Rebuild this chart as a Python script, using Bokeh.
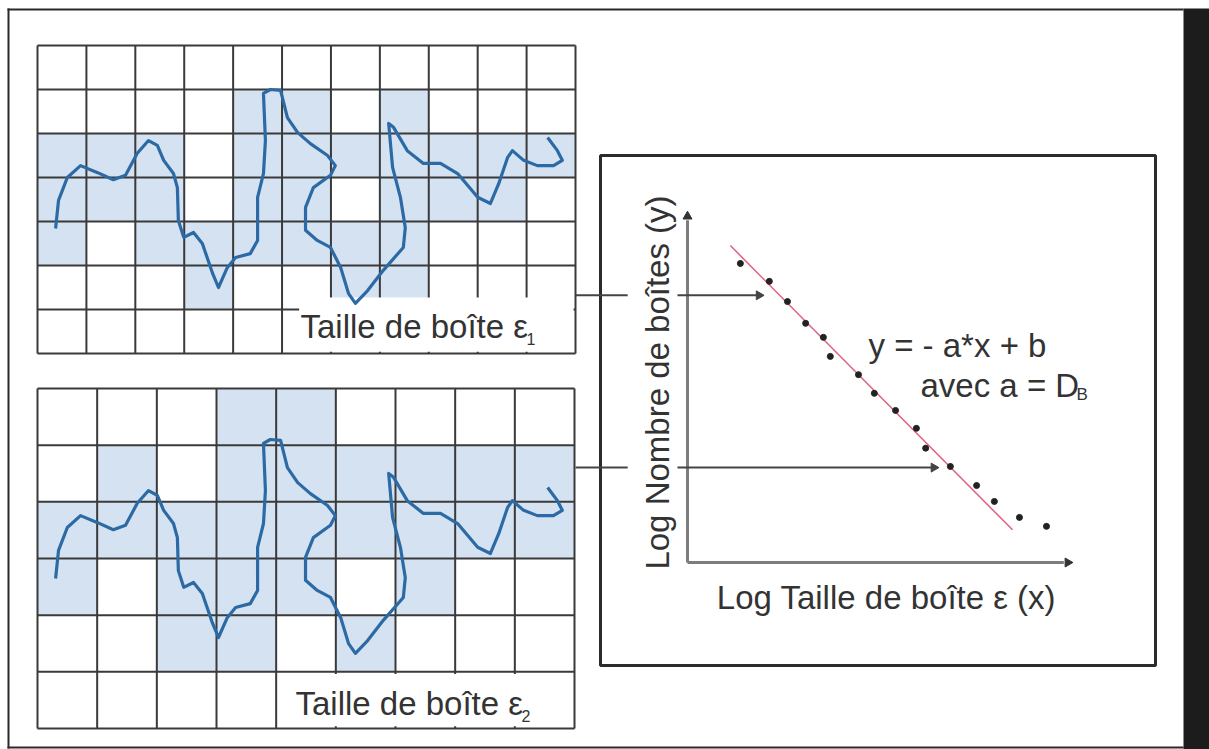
import math
from bokeh.plotting import figure
from bokeh.models import Range1d
from bokeh.core.properties import value
from bokeh.embed import file_html
from bokeh.resources import INLINE

# ---------------- data ----------------
# Fractal curve, in units of the box size eps1 (grid 1 is 11 x 7 boxes)
CURVE_X = [0.37, 0.43, 0.61, 0.88, 1.23, 1.55, 1.80, 2.04, 2.27, 2.45, 2.58, 2.78, 2.86,
           2.88, 2.99, 3.19, 3.37, 3.58, 3.70, 3.88, 4.05, 4.35, 4.50, 4.50, 4.62, 4.66,
           4.62, 4.76, 4.97, 5.11, 5.32, 5.58, 5.93, 6.09, 5.99, 5.64, 5.48, 5.48, 5.72,
           5.99, 6.20, 6.36, 6.50, 6.75, 7.07, 7.48, 7.52, 7.42, 7.26, 7.18, 7.28, 7.56,
           7.89, 8.24, 8.59, 9.00, 9.26, 9.43, 9.61, 9.71, 9.94, 10.22, 10.55, 10.73,
           10.63, 10.43]
CURVE_Y = [2.84, 3.48, 4.00, 4.27, 4.11, 3.95, 4.05, 4.55, 4.84, 4.73, 4.39, 4.09, 3.77,
           3.02, 2.64, 2.75, 2.50, 1.82, 1.50, 1.95, 2.18, 2.27, 2.57, 3.55, 4.09, 4.84,
           5.91, 6.00, 5.98, 5.36, 5.02, 4.77, 4.50, 4.27, 4.05, 3.77, 3.32, 2.80, 2.57,
           2.41, 1.95, 1.36, 1.14, 1.43, 1.89, 2.41, 2.86, 3.55, 4.23, 5.23, 5.14, 4.61,
           4.32, 4.32, 4.09, 3.55, 3.41, 3.86, 4.45, 4.61, 4.39, 4.27, 4.27, 4.39, 4.61,
           4.91]

# Grid 1 (box size eps1): 11 columns x 7 rows; boxes touched by the curve (row from top, column)
GRID1_COLS, GRID1_ROWS = 11, 7
GRID1_ROW = [1, 1, 1,
             2, 2, 2, 2, 2, 2, 2, 2, 2, 2,
             3, 3, 3, 3, 3, 3, 3, 3,
             4, 4, 4, 4, 4, 4, 4,
             5, 5, 5]
GRID1_COL = [4, 5, 7,
             0, 1, 2, 4, 5, 6, 7, 8, 9, 10,
             0, 1, 2, 4, 5, 7, 8, 9,
             0, 2, 3, 4, 5, 6, 7,
             3, 6, 7]

# Grid 2 (box size eps2): 9 columns x 6 rows
GRID2_COLS, GRID2_ROWS = 9, 6
GRID2_ROW = [0, 0,
             1, 1, 1, 1, 1, 1, 1,
             2, 2, 2, 2, 2, 2, 2, 2, 2,
             3, 3, 3, 3, 3,
             4, 4, 4]
GRID2_COL = [3, 4,
             1, 3, 4, 5, 6, 7, 8,
             0, 1, 2, 3, 4, 5, 6, 7, 8,
             0, 2, 3, 4, 6,
             2, 3, 5]

# log-log plot: log box size (x) vs log number of boxes (y)
LOG_EPS = [1.37, 2.12, 2.59, 3.06, 3.52, 3.70, 4.43, 4.84, 5.39, 5.93, 6.17, 6.81, 7.49,
           7.95, 8.60, 9.30]
LOG_N = [7.69, 7.23, 6.71, 6.15, 5.79, 5.30, 4.83, 4.35, 3.91, 3.45, 2.94, 2.47, 1.98,
         1.57, 1.16, 0.93]
FIT_A, FIT_B = 1.0, 9.26
FIT_X = [1.11, 8.42]
ARROW_LEVELS = [6.87, 2.44]   # log N read for eps1 and eps2
ARROW_TIPS = [1.97, 6.50]

LABEL_BOX = "Taille de boîte ε"
SUB1, SUB2 = "1", "2"
X_LABEL = "Log Taille de boîte ε (x)"
Y_LABEL = "Log Nombre de boîtes (y)"
EQ1 = "y = - a*x + b"
EQ2 = "avec a = D"
EQ2_SUB = "B"

# ---------------- styles ----------------
SHADE = "#d5e2f1"
GRIDLINE = "#3a3a3a"
CURVE_COLOR = "#2c6aa5"
TEXT = "#333333"
FONT = value("Liberation Sans")

W, H = 1209, 749
p = figure(width=W, height=H, x_range=Range1d(0, W), y_range=Range1d(H, 0),
           x_axis_type=None, y_axis_type=None, output_backend="svg",
           toolbar_location=None, min_border=0)
p.xgrid.visible = False
p.ygrid.visible = False
p.outline_line_color = None
p.background_fill_color = "white"
p.border_fill_color = "white"

# page frame and dark side bar
p.quad(left=1183, right=W, top=8, bottom=H, fill_color="#1c1c1c", line_color=None)
p.segment(x0=[8, 7, 7], y0=[8, 9, 747], x1=[8, 1183, 1183], y1=[748, 9, 747],
          line_color="#2a2a2a", line_width=2)


def draw_grid(ncols, nrows, rows, cols, xt, yt, box_left, box_top):
    g = p.subplot(x_source=Range1d(0, ncols), y_source=Range1d(0, nrows),
                  x_target=Range1d(*xt), y_target=Range1d(*yt))
    g.quad(left=cols, right=[c + 1 for c in cols],
           top=[nrows - r for r in rows], bottom=[nrows - r - 1 for r in rows],
           fill_color=SHADE, line_color=None)
    xs = list(range(ncols + 1))
    ys = list(range(nrows + 1))
    g.segment(x0=xs, y0=[0] * len(xs), x1=xs, y1=[nrows] * len(xs),
              line_color=GRIDLINE, line_width=2)
    g.segment(x0=[0] * len(ys), y0=ys, x1=[ncols] * len(ys), y1=ys,
              line_color=GRIDLINE, line_width=2)
    g.quad(left=[box_left], right=[ncols - 0.04], bottom=[0.04], top=[box_top],
           fill_color="white", line_color=None)
    return g


g1 = draw_grid(GRID1_COLS, GRID1_ROWS, GRID1_ROW, GRID1_COL, (37, 575), (353, 45), 5.35, 1.27)
g1.line(CURVE_X, CURVE_Y, line_color=CURVE_COLOR, line_width=3.2, line_join="round")

g2 = draw_grid(GRID2_COLS, GRID2_ROWS, GRID2_ROW, GRID2_COL, (37, 574), (728, 388), 4.04, 0.96)
c2 = p.subplot(x_source=Range1d(0, GRID1_COLS), y_source=Range1d(0, GRID1_ROWS),
               x_target=Range1d(37, 575), y_target=Range1d(703, 395))
c2.line(CURVE_X, CURVE_Y, line_color=CURVE_COLOR, line_width=3.2, line_join="round")

# grid labels
p.text(x=[300, 295], y=[326, 703], text=[LABEL_BOX, LABEL_BOX], text_font=FONT,
       text_font_size="33px", text_color=TEXT, text_align="left", text_baseline="middle")
p.text(x=[526, 521], y=[338, 715], text=[SUB1, SUB2], text_font=FONT,
       text_font_size="16px", text_color=TEXT, text_align="left", text_baseline="middle")

# right panel box
p.quad(left=[600], right=[1155], top=[155], bottom=[665], fill_color=None,
       line_color="#2b2b2b", line_width=3)

lg = p.subplot(x_source=Range1d(0, 10), y_source=Range1d(0, 9),
               x_target=Range1d(687, 1073), y_target=Range1d(562, 212))
# axes
lg.segment(x0=[0, 0], y0=[0, 0], x1=[0, 9.75], y1=[8.8, 0], line_color="#7d7d7d", line_width=3)
lg.scatter(x=[0], y=[8.9], marker="triangle", size=9, fill_color="#333", line_color="#333")
lg.scatter(x=[9.85], y=[0], marker="triangle", size=9, angle=-math.pi / 2,
           fill_color="#333", line_color="#333")
# connectors from the grids
lg.segment(x0=[-2.9] * 2, y0=ARROW_LEVELS, x1=[-1.55] * 2, y1=ARROW_LEVELS,
           line_color="#444", line_width=2)
lg.segment(x0=[-0.26] * 2, y0=ARROW_LEVELS, x1=[t - 0.12 for t in ARROW_TIPS], y1=ARROW_LEVELS,
           line_color="#444", line_width=2)
lg.scatter(x=[t - 0.12 for t in ARROW_TIPS], y=ARROW_LEVELS, marker="triangle", size=9,
           angle=-math.pi / 2, fill_color="#444", line_color="#444")
# fit and points
lg.line(FIT_X, [-FIT_A * x + FIT_B for x in FIT_X], line_color="#e0607a", line_width=1.5)
lg.scatter(LOG_EPS, LOG_N, size=6, fill_color="#222", line_color="#222")

# panel texts
p.text(x=[657], y=[382], text=[Y_LABEL], angle=math.pi / 2, text_font=FONT,
       text_font_size="33px", text_color=TEXT, text_align="center", text_baseline="middle")
p.text(x=[886], y=[597], text=[X_LABEL], text_font=FONT, text_font_size="33px",
       text_color=TEXT, text_align="center", text_baseline="middle")
p.text(x=[868, 920], y=[345, 385], text=[EQ1, EQ2], text_font=FONT, text_font_size="33px",
       text_color=TEXT, text_align="left", text_baseline="middle")
p.text(x=[1076], y=[394], text=[EQ2_SUB], text_font=FONT, text_font_size="17px",
       text_color=TEXT, text_align="left", text_baseline="middle")

open("out.html", "w").write(file_html(p, INLINE))
